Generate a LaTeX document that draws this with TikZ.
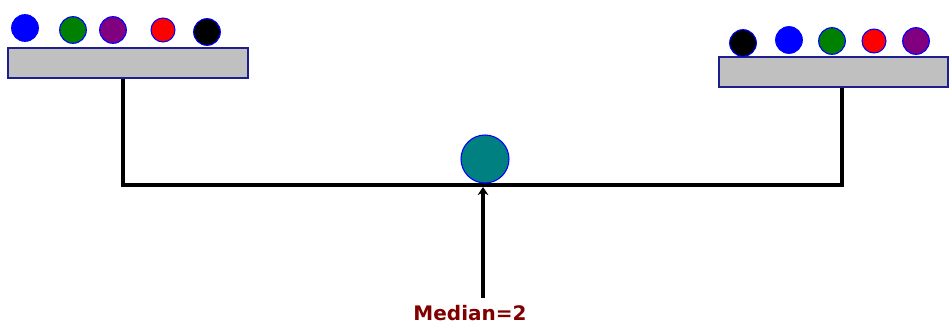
\documentclass[tikz,border=0pt]{standalone}
\usepackage{fontspec}
\setsansfont{DejaVu Sans}
\usetikzlibrary{arrows.meta, positioning}
\definecolor{cnavy}{RGB}{30,30,140}
\definecolor{cplank}{RGB}{192,192,192}
\definecolor{cteal}{RGB}{0,128,128}
\definecolor{cgreen}{RGB}{0,128,0}
\definecolor{cpurple}{RGB}{128,0,128}
\definecolor{cmaroon}{RGB}{128,0,0}
\tikzset{
  every picture/.style={x=0.75pt, y=-0.75pt, font=\sffamily},
  plank/.style={draw=cnavy, fill=cplank, line width=1.1pt, inner sep=0pt, minimum height=22.5pt},
  ball/.style={circle, draw=blue, fill=#1, line width=0.8pt, inner sep=0pt, minimum size=20pt},
  bar/.style={draw=black, line width=3.2pt},
  caption/.style={font=\sffamily\bfseries\fontsize{15}{18}\selectfont, text=cmaroon, inner sep=1pt},
}

\begin{document}
\begin{tikzpicture}
  \useasboundingbox (0,0) rectangle (950,325);
  % pans
  \node[plank, minimum width=180pt] (lplank) at (128,63) {};
  \node[plank, minimum width=171.75pt] (rplank) at (833.5,72) {};
  \foreach \n/\c/\s/\x/\y in {1/blue/20/25/28, 2/cgreen/20/73/30, 3/cpurple/20/113/30, 4/red/18/163/30, 5/black/20/207/32}
    { \node[ball=\c, minimum size=\s pt] (l\n) at (\x,\y) {}; }
  \foreach \n/\c/\s/\x/\y in {1/black/20/743/43, 2/blue/20/789/40, 3/cgreen/20/832/41, 4/red/18/874/41, 5/cpurple/20/916/41}
    { \node[ball=\c, minimum size=\s pt] (r\n) at (\x,\y) {}; }
  % beam and fulcrum
  \coordinate (lend) at (123,185);
  \coordinate (rend) at (842,185);
  \coordinate (pivot) at (483,187);
  \draw[bar] (lend |- lplank.south) -- (lend) -- (rend) -- (rend |- rplank.south);
  \node[circle, draw=blue, fill=cteal, line width=0.8pt, inner sep=0pt, minimum size=36pt] (fulcrum) at (485,159) {};
  \node[caption] (median) at (470,313) {Median=2};
  \draw[bar, -{Stealth[length=6pt, width=8pt]}] (pivot |- median.north) ++(0,-6) -- (pivot);
\end{tikzpicture}
\end{document}
